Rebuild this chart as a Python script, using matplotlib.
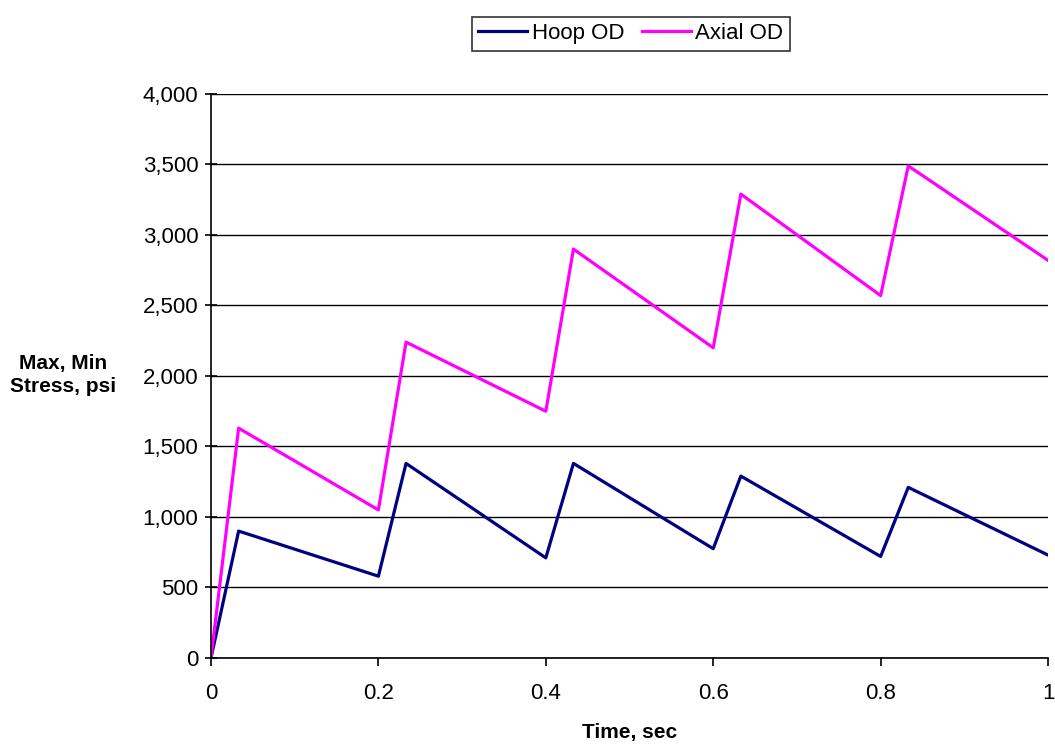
import matplotlib
matplotlib.use("Agg")
import matplotlib.pyplot as plt
from matplotlib.ticker import FuncFormatter

# data
time_sec = [0.0, 0.033, 0.2, 0.233, 0.4, 0.433, 0.6, 0.633, 0.8, 0.833, 1.0]
hoop_od = [0, 900, 580, 1380, 710, 1380, 775, 1290, 720, 1210, 730]
axial_od = [0, 1630, 1050, 2240, 1750, 2900, 2200, 3290, 2570, 3490, 2820]

x_ticks = [0, 0.2, 0.4, 0.6, 0.8, 1]
x_tick_labels = ["0", "0.2", "0.4", "0.6", "0.8", "1"]
y_ticks = list(range(0, 4001, 500))

plt.rcParams["font.family"] = ["Liberation Sans", "DejaVu Sans"]

fig = plt.figure(figsize=(10.55, 7.5), dpi=100)
ax = fig.add_axes([0.2, 0.1227, 0.7934, 0.752])

ax.plot(time_sec, hoop_od, color="#000080", lw=2.3, label="Hoop OD")
ax.plot(time_sec, axial_od, color="#FF00FF", lw=2.3, label="Axial OD")

ax.set_xlim(0, 1)
ax.set_ylim(0, 4000)
ax.set_xticks(x_ticks)
ax.set_xticklabels(x_tick_labels)
ax.set_yticks(y_ticks)
ax.yaxis.set_major_formatter(FuncFormatter(lambda v, p: f"{int(v):,}"))

ax.grid(axis="y", color="black", lw=1.0)
ax.set_axisbelow(True)
for side in ["top", "right"]:
    ax.spines[side].set_visible(False)
for side in ["left", "bottom"]:
    ax.spines[side].set_linewidth(1.2)

ax.tick_params(axis="y", direction="inout", length=8, width=1.2, labelsize=16, pad=5)
ax.tick_params(axis="x", direction="out", length=6, width=1.2, labelsize=16, pad=12)

ax.set_xlabel("Time, sec", fontsize=15, fontweight="bold", labelpad=14)
fig.text(0.06, 0.5, "Max, Min\nStress, psi", fontsize=15, fontweight="bold",
         ha="center", va="center", linespacing=1.2)

leg = fig.legend(loc="center", bbox_to_anchor=(0.598, 0.955), ncol=2,
                 frameon=True, fancybox=False, edgecolor="black", fontsize=16,
                 handlelength=2.2, handletextpad=0.2, columnspacing=0.8,
                 borderpad=0.3)
leg.get_frame().set_linewidth(1.2)

fig.savefig("out.png", dpi=100)
